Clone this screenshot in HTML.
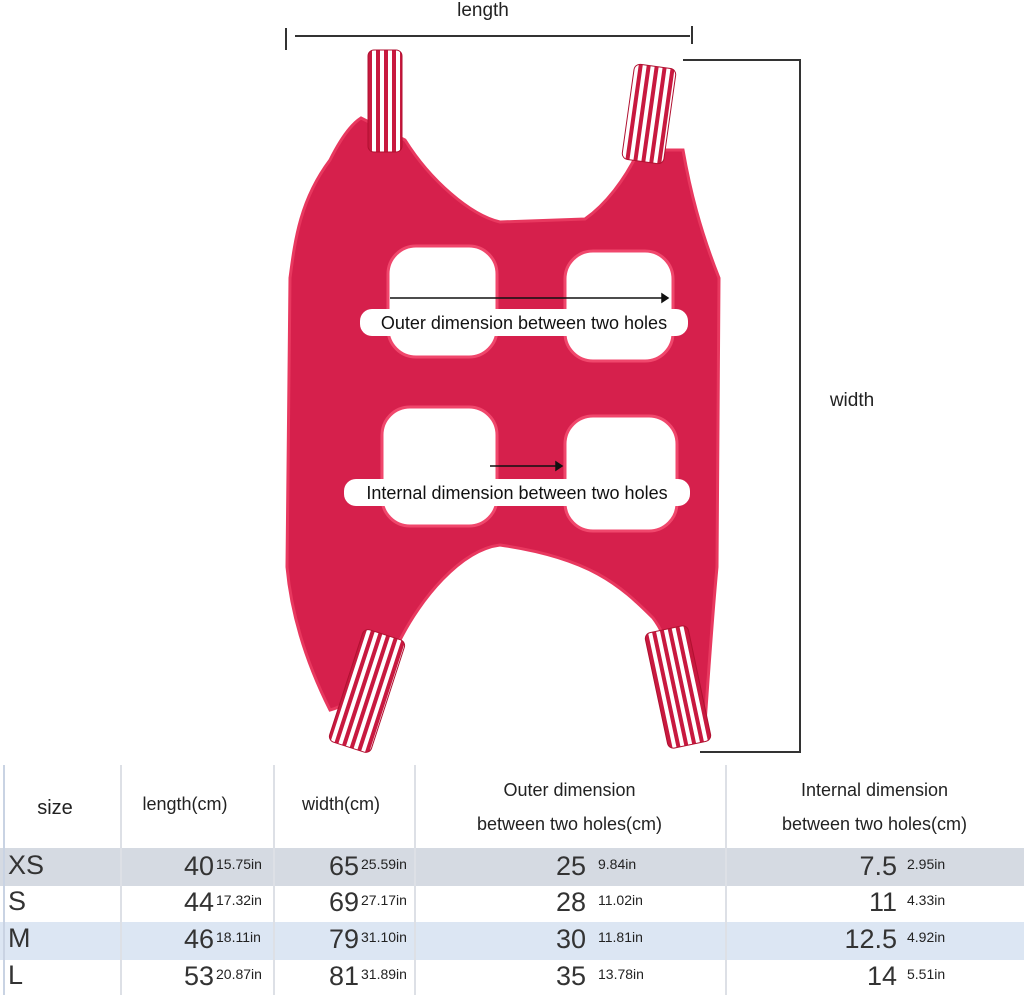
<!DOCTYPE html>
<html><head><meta charset="utf-8">
<style>
body{margin:0;width:1024px;height:995px;background:#fff;overflow:hidden;position:relative;font-family:"Liberation Sans",sans-serif;}
svg{position:absolute;left:0;top:0}
.tb{position:absolute;left:0;top:765px;width:1024px;height:230px}
.row{position:absolute;left:0;width:1024px}
.cell{position:absolute;color:#222}
.big{font-size:27px;color:#333}
.sm{font-size:14px;color:#222}
.hd{font-size:18px;color:#222;text-align:center;line-height:34px}
.vl{position:absolute;top:0;width:2px;height:230px;background:#dde0e6}
</style></head><body>
<svg width="1024" height="765" viewBox="0 0 1024 765">
<defs>
<pattern id="st" width="8" height="8" patternUnits="userSpaceOnUse">
<rect width="8" height="8" fill="#fff"/><rect width="4" height="8" fill="#c8193f"/></pattern>
</defs>
<g stroke="#333" stroke-width="2">
<line x1="295" y1="36" x2="690" y2="36"/><line x1="286" y1="28" x2="286" y2="50"/><line x1="692" y1="26" x2="692" y2="44"/>
</g>
<text x="483" y="16" font-size="19" text-anchor="middle" fill="#222">length</text>
<g stroke="#333" stroke-width="2">
<line x1="683" y1="60" x2="801" y2="60"/><line x1="800" y1="60" x2="800" y2="752"/><line x1="700" y1="752" x2="801" y2="752"/>
</g>
<text x="852" y="406" font-size="19" text-anchor="middle" fill="#222">width</text>
<path fill="#d6204c" stroke="#e8385f" stroke-width="3" d="M361,118 L405,140 C430,180 470,215 500,222 L585,219 C605,205 625,180 639,150 L683,150 C690,190 700,230 719,278 L717,567 C712,620 708,680 704,738 L690,740 C680,680 670,640 653,618 C620,585 590,558 500,545 C460,550 420,600 400,640 C380,680 350,705 330,710 C300,650 290,600 287,567 L290,278 C295,240 300,200 330,160 C340,140 350,125 361,118 Z"/>
<g fill="#fff" stroke="#f0476c" stroke-width="3">
<rect x="388" y="246" width="109" height="111" rx="28"/>
<rect x="565" y="251" width="108" height="110" rx="28"/>
<rect x="382" y="407" width="115" height="119" rx="28"/>
<rect x="565" y="416" width="112" height="115" rx="28"/>
</g>
<g stroke="#b01030" stroke-width="1">
<rect x="368" y="50" width="34" height="102" fill="url(#st)" rx="6"/>
<rect x="628" y="66" width="42" height="96" fill="url(#st)" transform="rotate(8 649 114)" rx="6"/>
<rect x="345" y="632" width="44" height="118" fill="url(#st)" transform="rotate(18 367 691)" rx="6"/>
<rect x="656" y="628" width="44" height="118" fill="url(#st)" transform="rotate(-12 678 687)" rx="6"/>
</g>
<g stroke="#111" stroke-width="1.5">
<line x1="390" y1="298" x2="662" y2="298"/><path d="M662,294 L668,298 L662,302 Z" fill="#111"/>
</g>
<rect x="360" y="309" width="328" height="27" rx="12" fill="#fff"/>
<text x="524" y="329" font-size="18" text-anchor="middle" fill="#111">Outer dimension between two holes</text>
<g stroke="#111" stroke-width="1.5">
<line x1="490" y1="466" x2="556" y2="466"/><path d="M556,462 L562,466 L556,470 Z" fill="#111"/>
</g>
<rect x="344" y="479" width="346" height="27" rx="12" fill="#fff"/>
<text x="517" y="499" font-size="18" text-anchor="middle" fill="#111">Internal dimension between two holes</text>
</svg>

<div class="tb">
<div class="row" style="top:83px;height:38px;background:#d5dae2"></div>
<div class="row" style="top:157px;height:38px;background:#dce6f3"></div>
<div class="vl" style="left:3px;background:#c9d3e3"></div>
<div class="vl" style="left:120px"></div><div class="vl" style="left:273px"></div><div class="vl" style="left:414px"></div><div class="vl" style="left:725px"></div>
<div class="cell hd" style="left:0;width:110px;top:26px;font-size:20px">size</div>
<div class="cell hd" style="left:120px;width:130px;top:22px">length(cm)</div>
<div class="cell hd" style="left:273px;width:136px;top:22px">width(cm)</div>
<div class="cell hd" style="left:414px;width:311px;top:8px">Outer dimension<br>between two holes(cm)</div>
<div class="cell hd" style="left:725px;width:299px;top:8px">Internal dimension<br>between two holes(cm)</div>
<div id="rows"></div>
</div>
<script>
const sizes=["XS","S","M","L"];
const lenCm=["40","44","46","53"],lenIn=["15.75in","17.32in","18.11in","20.87in"];
const widCm=["65","69","79","81"],widIn=["25.59in","27.17in","31.10in","31.89in"];
const outCm=["25","28","30","35"],outIn=["9.84in","11.02in","11.81in","13.78in"];
const intCm=["7.5","11","12.5","14"],intIn=["2.95in","4.33in","4.92in","5.51in"];
const tops=[86,122,159,196];
const host=document.getElementById('rows');
function add(html,left,top,w,align,cls,name){
 const d=document.createElement('div');
 d.className='cell '+cls;
 d.style.cssText='left:'+left+'px;top:'+top+'px;width:'+w+'px;text-align:'+align;
 d.textContent=html;
 
 
 host.appendChild(d);
}
sizes.forEach((s,i)=>{
 const t=tops[i];
 add(s,8,t-1,100,'left','big','size-'+s);
 add(lenCm[i],120,t,94,'right','big','length-cm');
 add(lenIn[i],216,t+5,60,'left','sm','length-in');
 add(widCm[i],273,t,86,'right','big','width-cm');
 add(widIn[i],361,t+5,60,'left','sm','width-in');
 add(outCm[i],480,t,106,'right','big','outer-cm');
 add(outIn[i],598,t+5,70,'left','sm','outer-in');
 add(intCm[i],780,t,117,'right','big','internal-cm');
 add(intIn[i],907,t+5,70,'left','sm','internal-in');
});
</script>
</body></html>
